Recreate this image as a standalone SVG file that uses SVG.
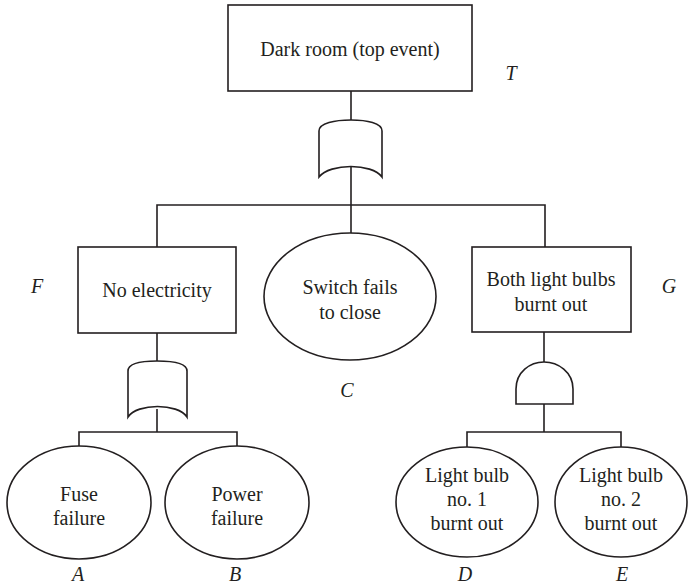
<svg xmlns="http://www.w3.org/2000/svg" width="688" height="587" viewBox="0 0 688 587">
  <style>
    .shape { fill: #ffffff; stroke: #231f20; stroke-width: 1.6; }
    .wire { fill: none; stroke: #231f20; stroke-width: 1.6; }
    .lbl { font-family: "Liberation Serif", "Times New Roman", serif; font-size: 20px; fill: #231f20; text-anchor: middle; }
    .tag { font-family: "Liberation Serif", "Times New Roman", serif; font-size: 20px; font-style: italic; fill: #231f20; text-anchor: middle; }
  </style>
  <rect width="688" height="587" fill="#ffffff"/>

  <!-- connectors -->
  <g id="connectors" class="wire">
    <path d="M351,91 V120"/>
    <path d="M351,167 V233"/>
    <path d="M157,247 V205 H545 V247"/>
    <path d="M157,333 V361"/>
    <path d="M157,409 V432"/>
    <path d="M79,446 V432 H237 V446"/>
    <path d="M544,332 V362"/>
    <path d="M544,404 V432"/>
    <path d="M467,447 V432 H621 V447"/>
  </g>

  <!-- top event -->
  <g id="T">
    <rect class="shape" x="228" y="5" width="244" height="86"/>
    <text class="lbl" x="350" y="56">Dark room (top event)</text>
    <text class="tag" x="511" y="80">T</text>
  </g>

  <!-- OR gate under top event -->
  <g id="or-top">
    <path class="shape" d="M319,177 L319,131 C319,123 335,120 351,120 C367,120 382,123 382,131 L382,177 C372,163 330,163 319,177 Z"/>
  </g>

  <g id="F">
    <rect class="shape" x="78" y="247" width="158" height="86"/>
    <text class="lbl" x="157" y="297">No electricity</text>
    <text class="tag" x="37" y="293">F</text>
  </g>

  <g id="C">
    <ellipse class="shape" cx="350" cy="296.5" rx="86" ry="63.5"/>
    <text class="lbl" x="350" y="294">Switch fails</text>
    <text class="lbl" x="350" y="319">to close</text>
    <text class="tag" x="347" y="397">C</text>
  </g>

  <g id="G">
    <rect class="shape" x="472" y="247" width="159" height="85"/>
    <text class="lbl" x="551" y="286">Both light bulbs</text>
    <text class="lbl" x="551" y="311">burnt out</text>
    <text class="tag" x="669" y="293">G</text>
  </g>

  <!-- OR gate under F -->
  <g id="or-F">
    <path class="shape" d="M128,417 L128,371 C128,363 143,361 157,361 C171,361 187,363 187,371 L187,417 C178,403 137,403 128,417 Z"/>
  </g>

  <!-- AND gate under G -->
  <g id="and-G">
    <path class="shape" d="M516,404 L516,389 C516,372 530,362 544,362 C558,362 573,372 573,389 L573,404 Z"/>
  </g>

  <g id="A">
    <ellipse class="shape" cx="79" cy="502.5" rx="72" ry="56.5"/>
    <text class="lbl" x="79" y="501">Fuse</text>
    <text class="lbl" x="79" y="525">failure</text>
    <text class="tag" x="78" y="581">A</text>
  </g>

  <g id="B">
    <ellipse class="shape" cx="237" cy="502.5" rx="72" ry="56.5"/>
    <text class="lbl" x="237" y="501">Power</text>
    <text class="lbl" x="237" y="525">failure</text>
    <text class="tag" x="235" y="581">B</text>
  </g>

  <g id="D">
    <ellipse class="shape" cx="467" cy="502" rx="71" ry="55"/>
    <text class="lbl" x="467" y="482">Light bulb</text>
    <text class="lbl" x="467" y="506">no. 1</text>
    <text class="lbl" x="467" y="530">burnt out</text>
    <text class="tag" x="465" y="581">D</text>
  </g>

  <g id="E">
    <ellipse class="shape" cx="621" cy="502" rx="66" ry="55"/>
    <text class="lbl" x="621" y="482">Light bulb</text>
    <text class="lbl" x="621" y="506">no. 2</text>
    <text class="lbl" x="621" y="530">burnt out</text>
    <text class="tag" x="622" y="581">E</text>
  </g>
</svg>
